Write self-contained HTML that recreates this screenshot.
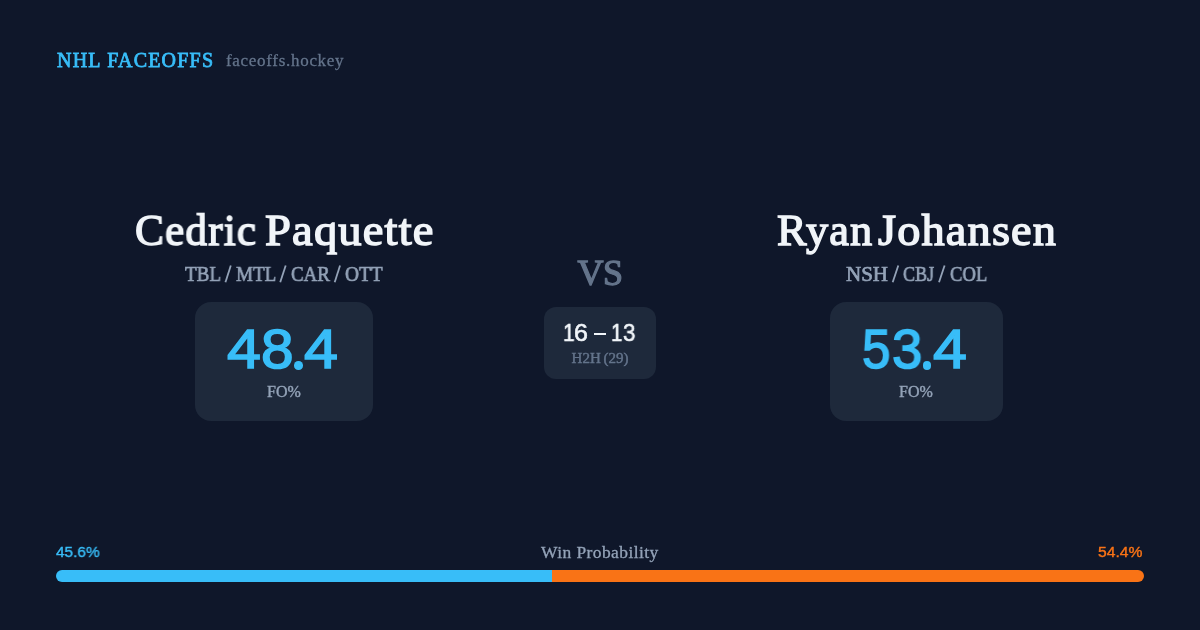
<!DOCTYPE html>
<html>
<head>
<meta charset="utf-8">
<style>
html,body{margin:0;padding:0;}
body{width:1200px;height:630px;background:#0f172a;position:relative;overflow:hidden;
  font-family:"Liberation Serif", serif;}
.t{position:absolute;white-space:nowrap;line-height:1;will-change:transform;}
.c{text-align:center;width:600px;}
.sans{font-family:"Liberation Sans", sans-serif;}
.card{position:absolute;background:#1e293b;}
.dg{top:321px;font-size:56px;color:#38bdf8;-webkit-text-stroke:1.6px #38bdf8;transform-origin:0 0;}
.hg{top:321.4px;font-size:24px;color:#f1f5f9;-webkit-text-stroke:0.6px #f1f5f9;transform-origin:0 0;}
.nm{top:209px;font-size:44px;color:#f1f5f9;-webkit-text-stroke:1.4px #f1f5f9;letter-spacing:1.1px;transform-origin:0 0;}
.tm{top:263.5px;font-size:21px;color:#94a3b8;-webkit-text-stroke:0.7px #94a3b8;transform-origin:0 0;}
</style>
</head>
<body>
<!-- header -->
<div class="t" id="nhl" style="left:56.5px;top:50px;font-size:20px;color:#38bdf8;-webkit-text-stroke:0.8px #38bdf8;letter-spacing:1.2px;">NHL FACEOFFS</div>
<div class="t" id="site" style="left:226px;top:51.5px;font-size:17px;letter-spacing:0.7px;color:#64748b;-webkit-text-stroke:0.3px #64748b;">faceoffs.hockey</div>

<!-- left player -->
<div class="t nm" style="left:135.10px;transform:scaleX(0.986);">Cedric</div>
<div class="t nm" style="left:265.15px;transform:scaleX(1.058);">Paquette</div>
<div class="t tm" style="left:185.25px;transform:scaleX(0.910);">TBL</div>
<div class="t tm" style="left:236.00px;transform:scaleX(0.909);">MTL</div>
<div class="t tm" style="left:290.50px;transform:scaleX(0.898);">CAR</div>
<div class="t tm" style="left:345.25px;transform:scaleX(0.921);">OTT</div>
<svg style="position:absolute;left:0;top:0;" width="1200" height="630"><line x1="225.45" y1="282.2" x2="230.80" y2="265.5" stroke="#94a3b8" stroke-width="1.8"/><line x1="280.20" y1="282.2" x2="285.70" y2="265.5" stroke="#94a3b8" stroke-width="1.8"/><line x1="334.70" y1="282.2" x2="340.05" y2="265.5" stroke="#94a3b8" stroke-width="1.8"/></svg>
<div class="card" style="left:195px;top:302px;width:178px;height:119px;border-radius:16px;"></div>
<div class="t sans dg" style="left:227.40px;transform:scaleX(1.087);">4</div>
<div class="t sans dg" style="left:260.80px;transform:scaleX(1.046);">8</div>
<div class="t sans dg" style="left:304.00px;transform:scaleX(1.090);">4</div>
<div style="position:absolute;left:294.20px;top:361.10px;width:8.5px;height:8.5px;border-radius:50%;background:#38bdf8;"></div>
<div class="t c" id="fo1" style="left:-16px;top:384px;font-size:16px;color:#94a3b8;-webkit-text-stroke:0.4px #94a3b8;">FO%</div>

<!-- middle -->
<div class="t c" id="vs" style="left:300px;top:255px;font-size:36px;color:#64748b;-webkit-text-stroke:1.3px #64748b;letter-spacing:-0.5px;">VS</div>
<div class="card" style="left:544px;top:307px;width:112px;height:72px;border-radius:12px;"></div>
<div class="t sans hg" style="left:563.06px;transform:scaleX(0.871);">1</div>
<div class="t sans hg" style="left:574.38px;transform:scaleX(1.042);">6</div>
<div class="t sans hg" style="left:611.08px;transform:scaleX(0.854);">1</div>
<div class="t sans hg" style="left:622.70px;transform:scaleX(0.933);">3</div>
<div style="position:absolute;left:594px;top:332.7px;width:12px;height:2.4px;background:#f1f5f9;"></div>
<div class="t c" id="h2hlbl" style="left:300px;top:350.5px;font-size:15px;color:#64748b;-webkit-text-stroke:0.45px #64748b;word-spacing:-1px;">H2H (29)</div>

<!-- right player -->
<div class="t nm" style="left:776.50px;transform:scaleX(1.007);">Ryan</div>
<div class="t nm" style="left:877.80px;transform:scaleX(1.053);">Johansen</div>
<div class="t tm" style="left:845.70px;transform:scaleX(1.000);">NSH</div>
<div class="t tm" style="left:903.30px;transform:scaleX(0.861);">CBJ</div>
<div class="t tm" style="left:950.00px;transform:scaleX(0.888);">COL</div>
<svg style="position:absolute;left:0;top:0;" width="1200" height="630"><line x1="892.70" y1="282.2" x2="898.30" y2="265.5" stroke="#94a3b8" stroke-width="1.8"/><line x1="939.00" y1="282.2" x2="944.60" y2="265.5" stroke="#94a3b8" stroke-width="1.8"/></svg>
<div class="card" style="left:830px;top:302px;width:173px;height:119px;border-radius:16px;"></div>
<div class="t sans dg" style="left:862.30px;transform:scaleX(0.914);">5</div>
<div class="t sans dg" style="left:892.00px;transform:scaleX(0.975);">3</div>
<div class="t sans dg" style="left:932.80px;transform:scaleX(1.087);">4</div>
<div style="position:absolute;left:922.80px;top:361.20px;width:8.4px;height:8.4px;border-radius:50%;background:#38bdf8;"></div>
<div class="t c" id="fo2" style="left:616px;top:384px;font-size:16px;color:#94a3b8;-webkit-text-stroke:0.4px #94a3b8;">FO%</div>

<!-- bottom -->
<div class="t sans" id="pl" style="left:56.3px;top:544.3px;font-size:15.5px;color:#38bdf8;-webkit-text-stroke:0.4px #38bdf8;transform:scaleX(0.991);transform-origin:0 0;">45.6%</div>
<div class="t" id="wp" style="left:541.3px;top:544.5px;font-size:16px;color:#94a3b8;letter-spacing:0.4px;-webkit-text-stroke:0.3px #94a3b8;transform:scaleX(1.09);transform-origin:0 0;">Win Probability</div>
<div class="t sans" id="pr" style="left:1097.8px;top:544.3px;font-size:15.5px;color:#f97316;-webkit-text-stroke:0.4px #f97316;transform:scaleX(1.012);transform-origin:0 0;">54.4%</div>
<div style="position:absolute;left:56px;top:570px;width:496.1px;height:12px;border-radius:6px 0 0 6px;background:#38bdf8;"></div>
<div style="position:absolute;left:552.1px;top:570px;width:591.9px;height:12px;border-radius:0 6px 6px 0;background:#f97316;"></div>
</body>
</html>
